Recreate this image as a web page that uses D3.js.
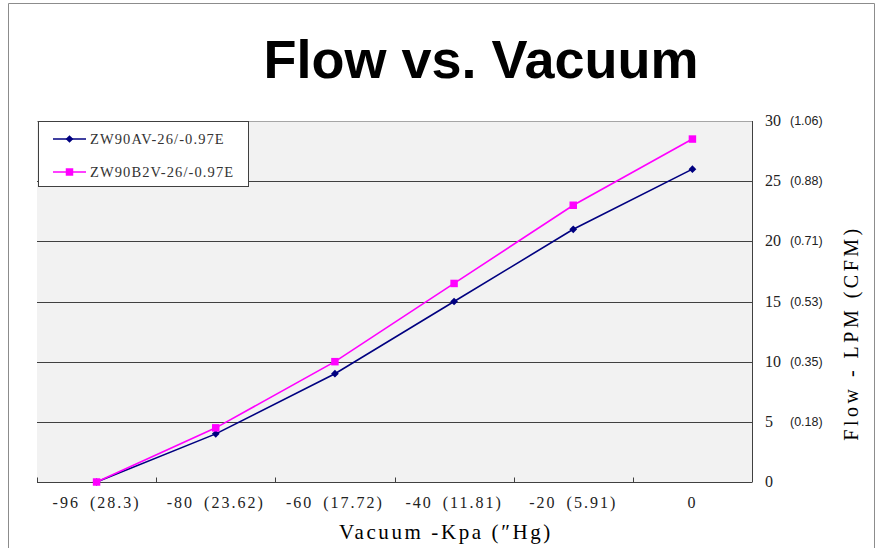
<!DOCTYPE html>
<html>
<head>
<meta charset="utf-8">
<script src="https://cdn.jsdelivr.net/npm/d3@7"></script>
<style>
  body { margin: 0; background: #fff; }
  svg { display: block; }
</style>
</head>
<body>
<div id="chart"></div>
<script>
// chart data
const kpa = ["-96", "-80", "-60", "-40", "-20", "0"];
const inHg = ["(28.3)", "(23.62)", "(17.72)", "(11.81)", "(5.91)", ""];
const flowAV = [0, 4, 9, 15, 21, 26];
const flowB2V = [0, 4.5, 10, 16.5, 23, 28.5];
const yTicks = [0, 5, 10, 15, 20, 25, 30];
const cfmLabels = ["", "(0.18)", "(0.35)", "(0.53)", "(0.71)", "(0.88)", "(1.06)"];
const seriesNames = ["ZW90AV-26/-0.97E", "ZW90B2V-26/-0.97E"];

const width = 877, height = 548;
const plot = {left: 37, right: 752, top: 121, bottom: 482};
const serif = "'Liberation Serif', 'DejaVu Serif', serif";

const svg = d3.select("#chart")
  .append("svg")
    .attr("width", width)
    .attr("height", height);

// outer frame
svg.append("path")
  .attr("d", `M8.5,${height} V3.5 H874.5 V${height}`)
  .attr("fill", "none")
  .attr("stroke", "#8c8c8c")
  .attr("stroke-width", 1);

// title
svg.append("text")
  .attr("x", 481).attr("y", 78)
  .attr("text-anchor", "middle")
  .style("font-family", "'Liberation Sans', Arial, sans-serif")
  .style("font-weight", "bold")
  .style("font-size", "54px")
  .text("Flow vs. Vacuum");

// scales
const x = d3.scaleBand()
  .domain(kpa)
  .range([plot.left, plot.right]);

const y = d3.scaleLinear()
  .domain([0, 30])
  .range([plot.bottom, plot.top]);

// plot background
svg.append("rect")
  .attr("x", plot.left).attr("y", plot.top)
  .attr("width", plot.right - plot.left)
  .attr("height", plot.bottom - plot.top)
  .attr("fill", "#f2f2f2");

// gridlines
svg.append("g")
  .selectAll("line")
  .data(yTicks.filter(d => d > 0))
  .join("line")
    .attr("x1", plot.left).attr("x2", plot.right)
    .attr("y1", d => Math.round(y(d)) + 0.5)
    .attr("y2", d => Math.round(y(d)) + 0.5)
    .attr("stroke", d => d === 30 ? "#a6a6a6" : "#404040")
    .attr("stroke-width", 1);

// right axis line
svg.append("line")
  .attr("x1", plot.right + 0.5).attr("x2", plot.right + 0.5)
  .attr("y1", plot.top).attr("y2", plot.bottom)
  .attr("stroke", "#404040");

// y labels on the right
const yLab = svg.append("g");
yLab.selectAll("text.lpm")
  .data(yTicks)
  .join("text")
    .attr("class", "lpm")
    .attr("x", 765)
    .attr("y", d => y(d) + 5)
    .style("font-family", serif)
    .style("font-size", "16px")
    .attr("fill", "#222")
    .text(d => d);
yLab.selectAll("text.cfm")
  .data(yTicks)
  .join("text")
    .attr("class", "cfm")
    .attr("x", 790)
    .attr("y", d => y(d) + 4)
    .style("font-family", "'Liberation Sans', Arial, sans-serif")
    .style("font-size", "12.5px")
    .attr("fill", "#222")
    .text((d, i) => cfmLabels[i]);

svg.append("text")
  .attr("transform", `translate(858, 333) rotate(-90)`)
  .attr("text-anchor", "middle")
  .style("font-family", serif)
  .style("font-size", "20px")
  .style("letter-spacing", "3.5px")
  .text("Flow - LPM (CFM)");

// x axis
const xAxis = svg.append("g")
  .attr("transform", `translate(0, ${plot.bottom + 0.5})`);
xAxis.append("line")
  .attr("x1", plot.left).attr("x2", plot.right)
  .attr("stroke", "#404040");
xAxis.selectAll("line.tick")
  .data(kpa.concat(["end"]))
  .join("line")
    .attr("class", "tick")
    .attr("x1", (d, i) => Math.round(plot.left + i * x.bandwidth()) + 0.5)
    .attr("x2", (d, i) => Math.round(plot.left + i * x.bandwidth()) + 0.5)
    .attr("y1", -5).attr("y2", 0)
    .attr("stroke", "#404040");
xAxis.selectAll("text")
  .data(kpa)
  .join("text")
    .attr("x", d => x(d) + x.bandwidth() / 2)
    .attr("y", 25)
    .attr("text-anchor", "middle")
    .style("font-family", serif)
    .style("font-size", "16px")
    .style("letter-spacing", "2px")
    .attr("fill", "#222")
    .text((d, i) => inHg[i] ? `${d}\u2002${inHg[i]}` : d);

svg.append("text")
  .attr("x", 446).attr("y", 539)
  .attr("text-anchor", "middle")
  .style("font-family", serif)
  .style("font-size", "21px")
  .style("letter-spacing", "2.6px")
  .text("Vacuum -Kpa (\u2033Hg)");

// series
const series = [
  {name: seriesNames[0], values: flowAV, color: "#000080", shape: d3.symbolSquare, size: 30, rot: 45},
  {name: seriesNames[1], values: flowB2V, color: "#ff00ff", shape: d3.symbolSquare, size: 56, rot: 0}
];

const line = d3.line()
  .x((d, i) => x(kpa[i]) + x.bandwidth() / 2)
  .y(d => y(d));

series.forEach(s => {
  svg.append("path")
    .datum(s.values)
    .attr("d", line)
    .attr("fill", "none")
    .attr("stroke", s.color)
    .attr("stroke-width", 1.6);
  svg.append("g")
    .selectAll("path")
    .data(s.values)
    .join("path")
      .attr("transform", (d, i) => `translate(${x(kpa[i]) + x.bandwidth() / 2}, ${y(d)}) rotate(${s.rot})`)
      .attr("d", d3.symbol().type(s.shape).size(s.size))
      .attr("fill", s.color);
});

// legend
const legend = svg.append("g");
legend.append("rect")
  .attr("x", 38.5).attr("y", 121.5)
  .attr("width", 210).attr("height", 65)
  .attr("fill", "#fff")
  .attr("stroke", "#404040");
series.forEach((s, i) => {
  const ly = 139 + i * 33;
  legend.append("line")
    .attr("x1", 53).attr("x2", 86)
    .attr("y1", ly).attr("y2", ly)
    .attr("stroke", s.color)
    .attr("stroke-width", 1.6);
  legend.append("path")
    .attr("transform", `translate(69.5, ${ly}) rotate(${s.rot})`)
    .attr("d", d3.symbol().type(s.shape).size(s.size))
    .attr("fill", s.color);
  legend.append("text")
    .attr("x", 90).attr("y", ly + 5)
    .style("font-family", serif)
    .style("font-size", "14.5px")
    .style("letter-spacing", "1.1px")
    .attr("fill", "#333")
    .text(s.name);
});
</script>
</body>
</html>
